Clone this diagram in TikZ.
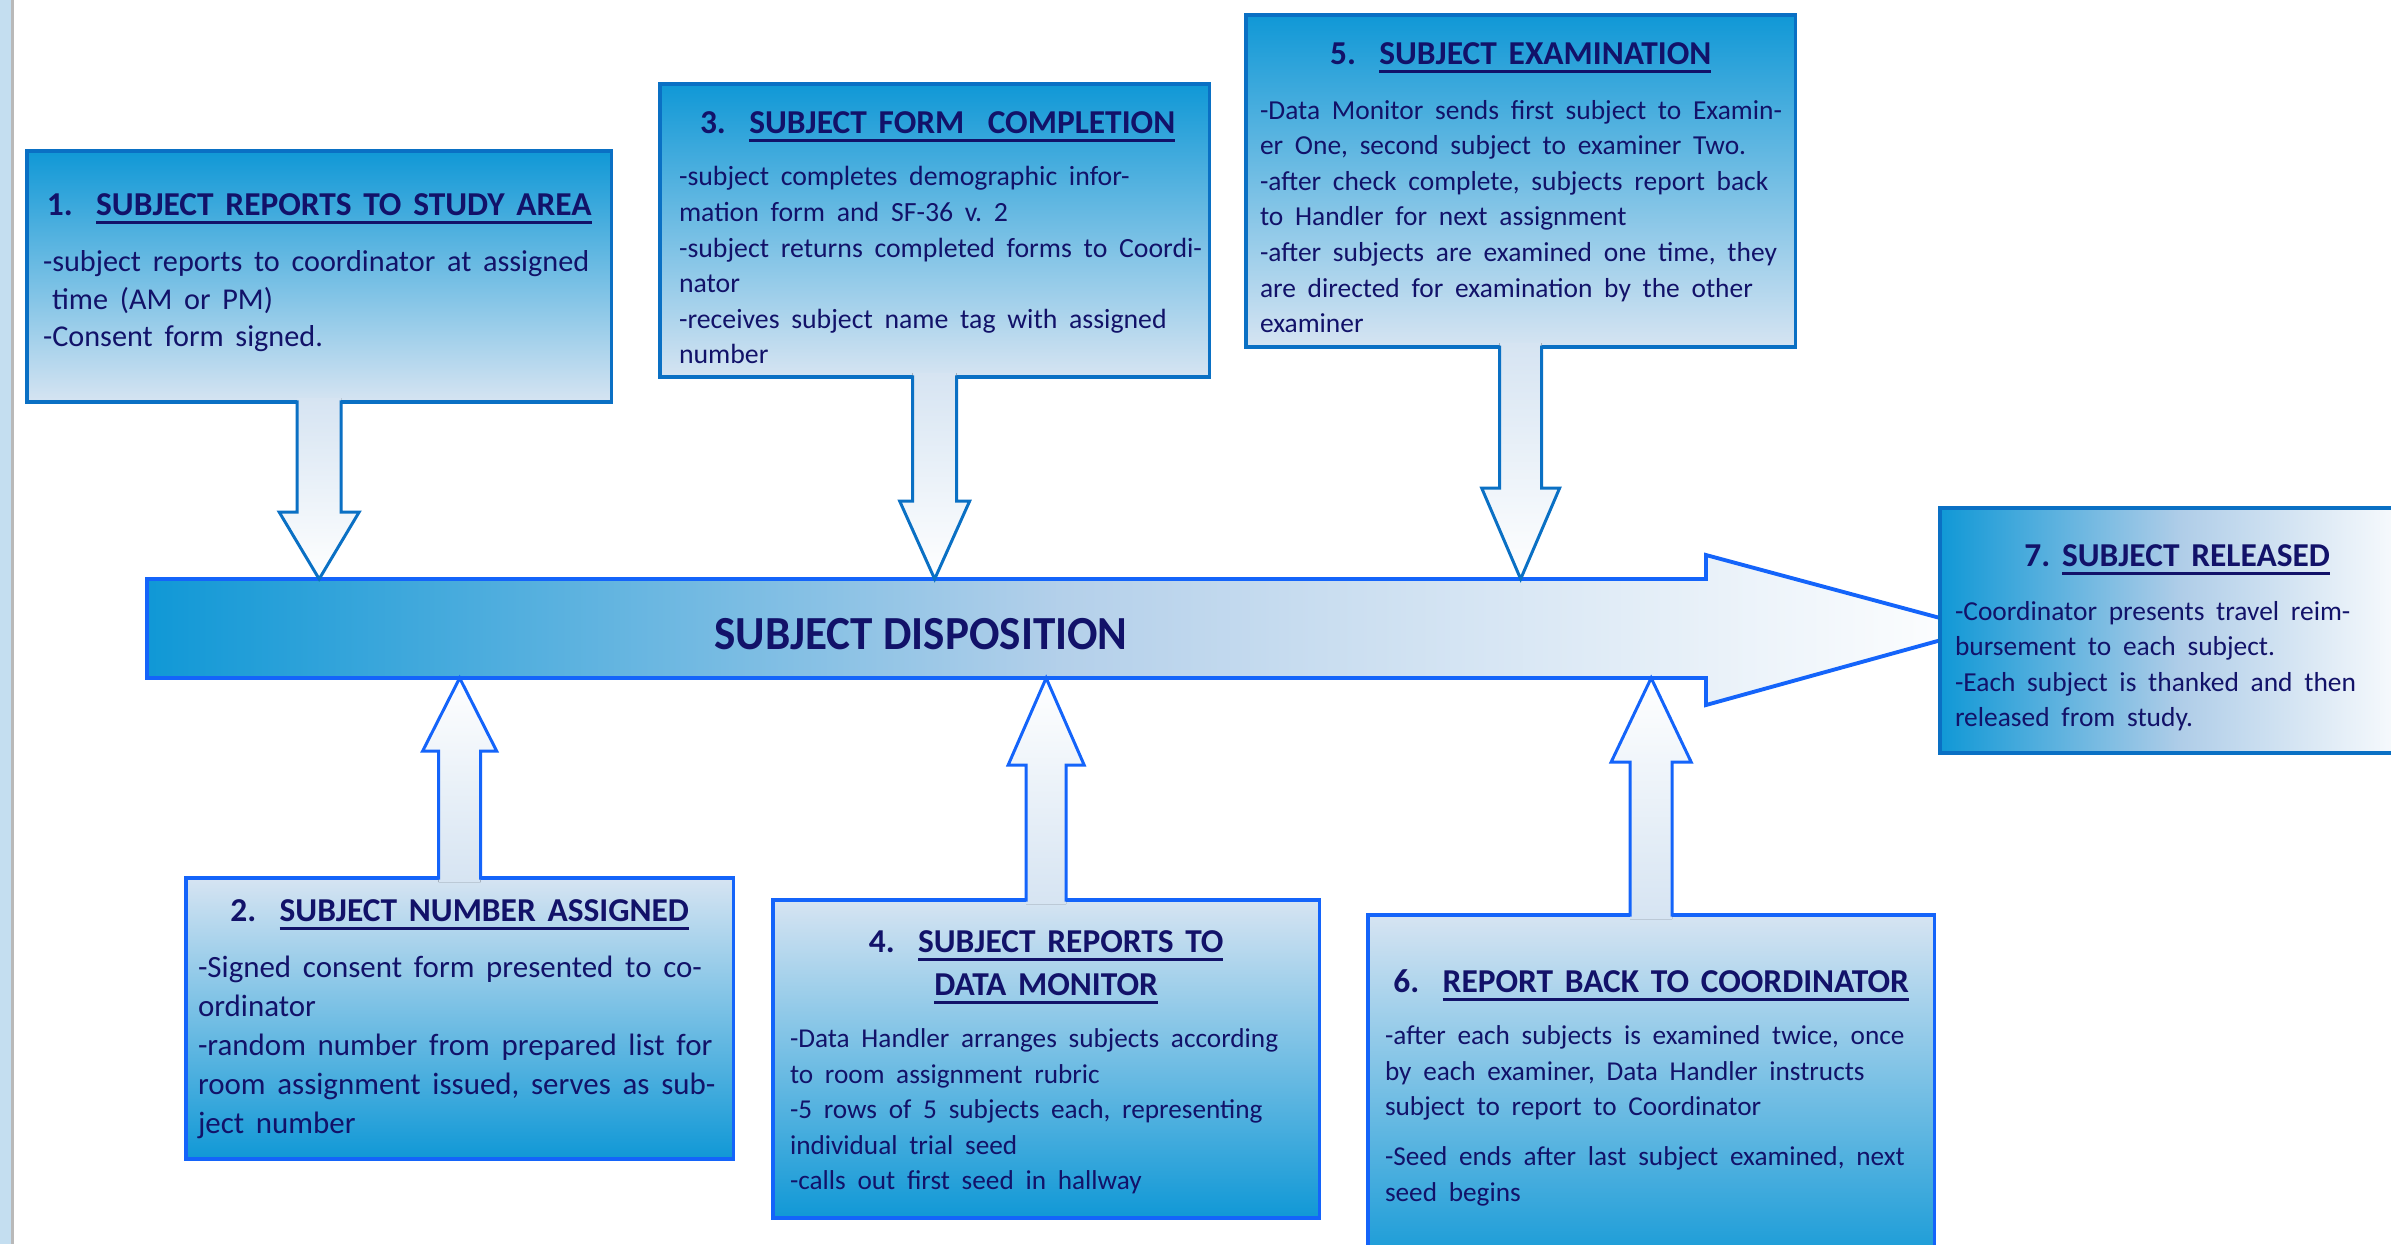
\documentclass[tikz,border=0pt]{standalone}
\usepackage{fontspec}
\usepackage{graphicx}
\setmainfont{Carlito}
\frenchspacing
\usetikzlibrary{calc}
\definecolor{dk}{RGB}{16,152,214}
\definecolor{lt}{RGB}{214,228,242}
\definecolor{edgeA}{RGB}{10,112,196}
\definecolor{edgeB}{RGB}{20,100,250}
\definecolor{ink}{RGB}{18,18,105}
\definecolor{strip}{RGB}{196,222,240}
\newcommand\myul[1]{\leavevmode\setbox0\hbox{#1}\rlap{\rule[-2.3pt]{\wd0}{0.9pt}}\box0}
\newcommand\ttlfont{\fontsize{9.5}{12.2}\selectfont\bfseries}
\newcommand\bodyfont[1]{\fontsize{#1}{10.1}\selectfont}
% block arrow from box (south side) down to tip
\newcommand\blkdn[5]{%
  \fill[top color=lt, bottom color=white]
    ($(#1.south)+(-#4,-4)$) -- ($(#2)+(-#4,-#3)$) -- ($(#2)+(-#5,-#3)$) -- (#2)
    -- ($(#2)+(#5,-#3)$) -- ($(#2)+(#4,-#3)$) -- ($(#1.south)+(#4,-4)$) -- cycle;
  \draw[edgeA, line width=0.85pt, line join=miter]
    ($(#1.south)+(-#4,-1.7)$) -- ($(#2)+(-#4,-#3)$) -- ($(#2)+(-#5,-#3)$) -- (#2)
    -- ($(#2)+(#5,-#3)$) -- ($(#2)+(#4,-#3)$) -- ($(#1.south)+(#4,-1.7)$);}
% block arrow from box (north side) up to tip
\newcommand\blkup[5]{%
  \fill[top color=white, bottom color=lt]
    ($(#1.north)+(-#4,4)$) -- ($(#2)+(-#4,#3)$) -- ($(#2)+(-#5,#3)$) -- (#2)
    -- ($(#2)+(#5,#3)$) -- ($(#2)+(#4,#3)$) -- ($(#1.north)+(#4,4)$) -- cycle;
  \draw[edgeB, line width=0.85pt, line join=miter]
    ($(#1.north)+(-#4,1.7)$) -- ($(#2)+(-#4,#3)$) -- ($(#2)+(-#5,#3)$) -- (#2)
    -- ($(#2)+(#5,#3)$) -- ($(#2)+(#4,#3)$) -- ($(#1.north)+(#4,1.7)$);}
\tikzset{
  topbox/.style={rectangle, draw=edgeA, line width=1pt, top color=dk, bottom color=lt,
    inner sep=0pt, outer sep=0pt, anchor=north west},
  botbox/.style={rectangle, draw=edgeB, line width=1pt, top color=lt, bottom color=dk,
    inner sep=0pt, outer sep=0pt, anchor=north west},
  sidebox/.style={rectangle, draw=edgeA, line width=1pt, left color=dk, right color=white,
    middle color={rgb,255:red,175;green,205;blue,232},
    inner sep=0pt, outer sep=0pt, anchor=north west},
  txt/.style={anchor=north west, inner sep=0pt, outer sep=0pt, text=ink, align=left},
}
\begin{document}
\begin{tikzpicture}[x=0.01cm, y=-0.01cm]
\useasboundingbox (0,0) rectangle (2391,1244);
\clip (0,0) rectangle (2391,1244);
\fill[white] (0,0) rectangle (2391,1244);
% left window strip
\fill[strip] (0,0) rectangle (12,1244);
\draw[gray!55, line width=0.6pt] (12.5,0) -- (12.5,1244);

% main arrow
\coordinate (barN) at (0,579);
\coordinate (barS) at (0,678);
\path[draw=edgeB, line width=1.1pt, line join=miter, left color=dk, right color=white,
      middle color={rgb,255:red,180;green,208;blue,234}]
  (147,579) -- (1706,579) -- (1706,555) -- (1981,629) -- (1706,705) -- (1706,678)
  -- (147,678) -- cycle;
\node[text=ink, font=\fontsize{13.5}{16}\selectfont\bfseries, inner sep=0pt] (disp) at (921,634)
  {\scalebox{0.95}[1]{SUBJECT DISPOSITION}};

% boxes
\node[topbox, minimum width=5.84cm, minimum height=2.51cm] (b1) at (27,151) {};
\node[topbox, minimum width=5.49cm, minimum height=2.93cm] (b3) at (660,84) {};
\node[topbox, minimum width=5.49cm, minimum height=3.32cm] (b5) at (1246,15) {};
\node[botbox, minimum width=5.47cm, minimum height=2.81cm] (b2) at (186,878) {};
\node[botbox, minimum width=5.46cm, minimum height=3.18cm] (b4) at (773,900) {};
\node[botbox, minimum width=5.66cm, minimum height=3.60cm] (b6) at (1368,915) {};

% tips on the main arrow
\coordinate (p1) at (b1.south |- barN);
\coordinate (p3) at (b3.south |- barN);
\coordinate (p5) at (b5.south |- barN);
\coordinate (p2) at (b2.north |- barS);
\coordinate (p4) at (b4.north |- barS);
\coordinate (p6) at (b6.north |- barS);

\blkdn{b1}{p1}{67}{22}{40}
\blkdn{b3}{p3}{78}{22}{35}
\blkdn{b5}{p5}{91}{21}{39}
\blkup{b2}{p2}{73}{21}{37}
\blkup{b4}{p4}{87}{20}{38}
\blkup{b6}{p6}{84}{21}{40}

\node[sidebox, minimum width=4.80cm, minimum height=2.45cm] (b7) at (1940,508) {};

% texts
\node[txt, text width=5.64cm] (t1) at ($(b1.north west)+(16,43)$) {%
  {\ttlfont\centering\hspace*{-3.4pt}1.\ \ \myul{SUBJECT REPORTS TO STUDY AREA}\par}
  \vspace{5.3pt}
  {\fontsize{8.6}{10.6}\selectfont -subject reports to coordinator at assigned\\
   \hspace*{0.3em}time (AM or PM)\\
   -Consent form signed.\par}};

\node[txt, text width=5.50cm] (t3) at ($(b3.north west)+(19,28)$) {%
  {\ttlfont\centering\hspace*{-9.4pt}3.\ \ \myul{SUBJECT FORM\ \ COMPLETION}\par}
  \vspace{4.7pt}
  {\bodyfont{7.9}-subject completes demographic infor-\\
   mation form and SF-36 v. 2\\
   -subject returns completed forms to Coordi-\\
   nator\\
   -receives subject name tag with assigned\\
   number\par}};

\node[txt, text width=5.31cm] (t5) at ($(b5.north west)+(14,28)$) {%
  {\ttlfont\centering\hspace*{-2.8pt}5.\ \ \myul{SUBJECT EXAMINATION}\par}
  \vspace{5.4pt}
  {\bodyfont{7.8}-Data Monitor sends first subject to Examin-\\
   er One, second subject to examiner Two.\\
   -after check complete, subjects report back\\
   to Handler for next assignment\\
   -after subjects are examined one time, they\\
   are directed for examination by the other\\
   examiner\par}};

\node[txt, text width=5.31cm] (t2) at ($(b2.north west)+(12,22)$) {%
  {\ttlfont\centering\hspace*{-2.3pt}2.\ \ \myul{SUBJECT NUMBER ASSIGNED}\par}
  \vspace{4.8pt}
  {\fontsize{8.8}{11.1}\selectfont -Signed consent form presented to co-\\
   ordinator\\
   -random number from prepared list for\\
   room assignment issued, serves as sub-\\
   ject number\par}};

\node[txt, text width=5.25cm] (t4) at ($(b4.north west)+(17,31)$) {%
  {\ttlfont\centering\hspace*{-3.7pt}4.\ \ \myul{SUBJECT REPORTS TO}\\
   \hspace*{-3.7pt}\myul{DATA MONITOR}\par}
  \vspace{4.7pt}
  {\bodyfont{7.75}-Data Handler arranges subjects according\\
   to room assignment rubric\\
   -5 rows of 5 subjects each, representing\\
   individual trial seed\\
   -calls out first seed in hallway\par}};

\node[txt, text width=5.45cm] (t6) at ($(b6.north west)+(17,55)$) {%
  {\ttlfont\centering\hspace*{-3.7pt}6.\ \ \myul{REPORT BACK TO COORDINATOR}\par}
  \vspace{4.7pt}
  {\bodyfont{7.75}-after each subjects is examined twice, once\\
   by each examiner, Data Handler instructs\\
   subject to report to Coordinator\par}
  \vspace{4.1pt}
  {\bodyfont{7.75}-Seed ends after last subject examined, next\\
   seed begins\par}};

\node[txt, text width=4.44cm] (t7) at ($(b7.north west)+(15,37)$) {%
  {\ttlfont\centering 7. \myul{SUBJECT RELEASED}\par}
  \vspace{5.0pt}
  {\bodyfont{7.8}-Coordinator presents travel reim-\\
   bursement to each subject.\\
   -Each subject is thanked and then\\
   released from study.\par}};
\end{tikzpicture}
\end{document}
